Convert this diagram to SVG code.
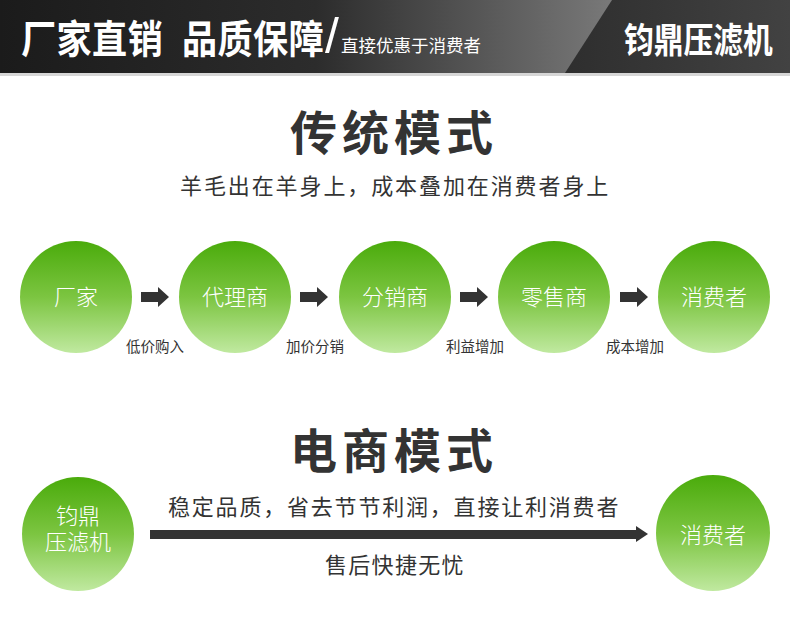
<svg xmlns="http://www.w3.org/2000/svg" width="790" height="629" viewBox="0 0 790 629">
<defs>
<linearGradient id="hdr" x1="0" y1="0" x2="1" y2="0">
<stop offset="0" stop-color="#1b1b1b"/>
<stop offset="0.4" stop-color="#2c2c2c"/>
<stop offset="0.78" stop-color="#7a7a7a"/>
<stop offset="1" stop-color="#8a8a8a"/>
</linearGradient>
<linearGradient id="hdr2" x1="0" y1="0" x2="1" y2="0">
<stop offset="0" stop-color="#2e2e2e"/>
<stop offset="1" stop-color="#424242"/>
</linearGradient>
<linearGradient id="green" x1="0" y1="0" x2="0" y2="1">
<stop offset="0" stop-color="#4aab0b"/>
<stop offset="0.5" stop-color="#7cc541"/>
<stop offset="1" stop-color="#c0e9a0"/>
</linearGradient>
</defs>
<style>
.cjk{font-family:"Noto Sans CJK SC","Noto Sans",sans-serif}
.hb{font-weight:bold;fill:#ffffff}
.title{font-size:47px;font-weight:bold;fill:#333333;letter-spacing:5px}
.sub{font-size:22px;fill:#333333}
.node circle,.node ellipse{fill:url(#green)}
.nt{font-size:22px;font-weight:300;fill:#ffffff;text-anchor:middle}
.lbl{font-size:14.5px;fill:#333333;text-anchor:middle}
.arr{fill:#333333}
</style>
<rect width="790" height="629" fill="#ffffff"/>
<g id="header">
<rect x="0" y="0" width="790" height="73" fill="url(#hdr)"/>
<polygon points="612,0 790,0 790,73 565,73" fill="url(#hdr2)"/>
<rect x="0" y="73" width="790" height="3" fill="#d6d6d6"/>
<text class="cjk hb" font-size="39" transform="translate(21,52.5) scale(0.9,1)" letter-spacing="0.5">厂家直销</text>
<text class="cjk hb" font-size="39" transform="translate(182,52.5) scale(0.9,1)" letter-spacing="0.5">品质保障</text>
<text x="325" y="53" font-family="Liberation Sans,sans-serif" font-size="50" fill="#ffffff">/</text>
<text class="cjk" x="341" y="52" font-size="17.5" fill="#ffffff">直接优惠于消费者</text>
<text class="cjk hb" font-size="35" transform="translate(624,53) scale(0.85,1)">钧鼎压滤机</text>
</g>
<g id="section1">
<text class="cjk title" x="290" y="150">传统模式</text>
<text class="cjk sub" x="180" y="194" letter-spacing="1.9">羊毛出在羊身上，成本叠加在消费者身上</text>
</g>
<g id="node-factory" class="node"><circle cx="76" cy="297" r="56"/><text class="cjk nt" x="76" y="305">厂家</text></g>
<g id="node-agent" class="node"><circle cx="235" cy="297" r="56"/><text class="cjk nt" x="235" y="305">代理商</text></g>
<g id="node-distributor" class="node"><circle cx="395" cy="297" r="56"/><text class="cjk nt" x="395" y="305">分销商</text></g>
<g id="node-retailer" class="node"><circle cx="554" cy="297" r="56"/><text class="cjk nt" x="554" y="305">零售商</text></g>
<g id="node-consumer1" class="node"><circle cx="714" cy="297" r="56"/><text class="cjk nt" x="714" y="305">消费者</text></g>
<g id="connectors">
<path class="arr" d="M141,292 H158 V287 L169,297 L158,307 V302 H141 Z"/>
<path class="arr" d="M300,292 H317 V287 L328,297 L317,307 V302 H300 Z"/>
<path class="arr" d="M460,292 H477 V287 L488,297 L477,307 V302 H460 Z"/>
<path class="arr" d="M620,292 H637 V287 L648,297 L637,307 V302 H620 Z"/>
<text class="cjk lbl" x="155" y="352">低价购入</text>
<text class="cjk lbl" x="315" y="352">加价分销</text>
<text class="cjk lbl" x="475" y="352">利益增加</text>
<text class="cjk lbl" x="635" y="352">成本增加</text>
<path class="arr" d="M150,530 H636 V526 L648,534 L636,542 V539 H150 Z"/>
<text class="cjk sub" x="168" y="515" letter-spacing="1.8">稳定品质，省去节节利润，直接让利消费者</text>
<text class="cjk sub" x="325" y="573" letter-spacing="1.3">售后快捷无忧</text>
</g>
<g id="section2">
<text class="cjk title" x="290" y="468">电商模式</text>
</g>
<g id="node-jd" class="node"><ellipse cx="78" cy="534" rx="56" ry="57"/><text class="cjk nt" x="78" y="524" font-size="21">钧鼎</text><text class="cjk nt" x="78" y="550" font-size="21">压滤机</text></g>
<g id="node-consumer2" class="node"><ellipse cx="713" cy="533" rx="57" ry="58"/><text class="cjk nt" x="713" y="543" font-size="23">消费者</text></g>
</svg>
